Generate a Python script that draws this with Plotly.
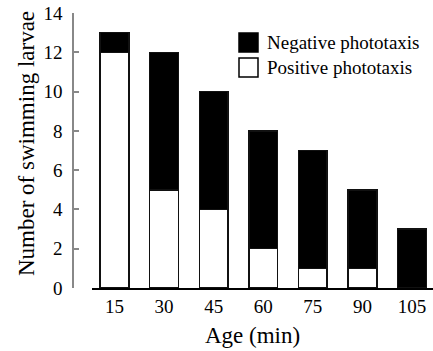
import plotly.graph_objects as go

ages = ["15", "30", "45", "60", "75", "90", "105"]
positive = [12, 5, 4, 2, 1, 1, 0]
negative = [1, 7, 6, 6, 6, 4, 3]
y_ticks = [0, 2, 4, 6, 8, 10, 12, 14]

FONT = "Liberation Serif"
W, H = 433, 351
ML, MR, MT, MB = 73, 0, 13, 63
PW = W - ML - MR
PH = H - MT - MB

fig = go.Figure()
fig.add_trace(go.Bar(x=ages, y=positive, name="Positive phototaxis",
                     marker=dict(color="white", line=dict(color="#111", width=1.5)),
                     width=0.58, showlegend=False))
fig.add_trace(go.Bar(x=ages, y=negative, name="Negative phototaxis",
                     marker=dict(color="black", line=dict(color="#111", width=1.5)),
                     width=0.58, showlegend=False))

x0 = (92 - ML) / PW
fig.update_layout(
    width=W, height=H, barmode="stack",
    margin=dict(l=ML, r=MR, t=MT, b=MB),
    paper_bgcolor="white", plot_bgcolor="white",
    font=dict(family=FONT, size=19, color="black"),
    xaxis=dict(domain=[x0, 1], type="category", range=[-0.454, 6.424],
               showline=True, linecolor="black", linewidth=1.5, ticks="",
               tickfont=dict(size=19), showgrid=False, zeroline=False),
    yaxis=dict(range=[0, 14], tickvals=y_ticks, anchor="free", position=0,
               showline=True, linecolor="#888", linewidth=1.5,
               ticks="inside", ticklen=5, tickcolor="#888", tickwidth=1.5,
               tickfont=dict(size=19), showgrid=False, zeroline=False,
               ticklabelstandoff=6),
)

def px2x(px): return (px - ML) / PW
def py2y(py): return (H - MB - py) / PH

# axis titles
fig.add_annotation(text="Age (min)", xref="paper", yref="paper",
                   x=px2x(252), y=py2y(335),
                   showarrow=False, font=dict(size=23), xanchor="center", yanchor="middle")
fig.add_annotation(text="Number of swimming larvae", xref="paper", yref="paper",
                   x=px2x(26), y=py2y(144), textangle=-90,
                   showarrow=False, font=dict(size=23), xanchor="center", yanchor="middle")

# manual legend
legend_items = [("Negative phototaxis", "black", 33), ("Positive phototaxis", "white", 58)]
for label, col, top in legend_items:
    fig.add_shape(type="rect", xref="paper", yref="paper",
                  x0=px2x(239), x1=px2x(258), y0=py2y(top + 19), y1=py2y(top),
                  fillcolor=col, line=dict(color="black", width=1.5))
    fig.add_annotation(text=label, xref="paper", yref="paper",
                       x=px2x(265), y=py2y(top + 9.5), xanchor="left", yanchor="middle",
                       showarrow=False, font=dict(size=19))

fig.write_html("out.html")
